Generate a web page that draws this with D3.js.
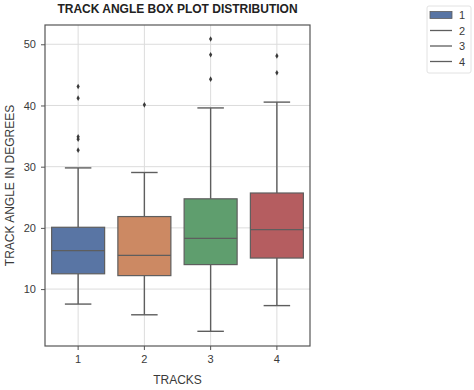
<!DOCTYPE html>
<html>
<head>
<meta charset="utf-8">
<script src="https://cdn.jsdelivr.net/npm/d3@7"></script>
<style>
  body { margin: 0; background: #fff; }
  text { font-family: "Liberation Sans", Arial, sans-serif; }
</style>
</head>
<body>
<div id="chart"></div>
<script>
// box stats
var tracks = ["1", "2", "3", "4"];
var whiskerLow = [7.55, 5.8, 3.1, 7.3];
var q1 = [12.5, 12.2, 14.0, 15.07];
var medians = [16.3, 15.5, 18.3, 19.7];
var q3 = [20.1, 21.85, 24.75, 25.7];
var whiskerHigh = [29.8, 29.05, 39.6, 40.55];
var outliers = [
  [43.1, 41.2, 34.9, 34.5, 32.7],
  [40.1],
  [50.85, 48.3, 44.3],
  [48.1, 45.35]
];
var colors = ["#5975a4", "#cc8963", "#5f9e6e", "#b55d60"];
var yTicks = [10, 20, 30, 40, 50];

var width = 474, height = 390;
var margin = {top: 25, right: 164, bottom: 44, left: 45};

var svg = d3.select("#chart").append("svg")
  .attr("width", width)
  .attr("height", height);

var x = d3.scaleBand().domain(tracks)
  .range([margin.left, width - margin.right]);
var y = d3.scaleLinear().domain([0.7, 53.15])
  .range([height - margin.bottom, margin.top]);

// grid
svg.append("g").selectAll("line").data(yTicks).enter().append("line")
  .attr("x1", margin.left).attr("x2", width - margin.right)
  .attr("y1", function(d) { return y(d); }).attr("y2", function(d) { return y(d); })
  .attr("stroke", "#dcdcdc").attr("stroke-width", 1);
svg.append("g").selectAll("line").data(tracks).enter().append("line")
  .attr("x1", function(d) { return x(d) + x.bandwidth() / 2; })
  .attr("x2", function(d) { return x(d) + x.bandwidth() / 2; })
  .attr("y1", margin.top).attr("y2", height - margin.bottom)
  .attr("stroke", "#dcdcdc").attr("stroke-width", 1);

var lineCol = "#5e5e5e";
var boxW = x.bandwidth() * 0.8;

var rows = tracks.map(function(t, i) {
  return {t: t, i: i, lo: whiskerLow[i], q1: q1[i], med: medians[i], q3: q3[i], hi: whiskerHigh[i]};
});

var g = svg.append("g").selectAll("g").data(rows).enter().append("g")
  .attr("transform", function(d) { return "translate(" + (x(d.t) + x.bandwidth() / 2) + ",0)"; });

// whiskers
g.append("line").attr("x1", 0).attr("x2", 0)
  .attr("y1", function(d) { return y(d.q3); }).attr("y2", function(d) { return y(d.hi); })
  .attr("stroke", lineCol).attr("stroke-width", 1.4);
g.append("line").attr("x1", 0).attr("x2", 0)
  .attr("y1", function(d) { return y(d.q1); }).attr("y2", function(d) { return y(d.lo); })
  .attr("stroke", lineCol).attr("stroke-width", 1.4);
g.append("line").attr("x1", -boxW / 4).attr("x2", boxW / 4)
  .attr("y1", function(d) { return y(d.hi); }).attr("y2", function(d) { return y(d.hi); })
  .attr("stroke", lineCol).attr("stroke-width", 1.4);
g.append("line").attr("x1", -boxW / 4).attr("x2", boxW / 4)
  .attr("y1", function(d) { return y(d.lo); }).attr("y2", function(d) { return y(d.lo); })
  .attr("stroke", lineCol).attr("stroke-width", 1.4);

// boxes
g.append("rect")
  .attr("x", -boxW / 2).attr("width", boxW)
  .attr("y", function(d) { return y(d.q3); })
  .attr("height", function(d) { return y(d.q1) - y(d.q3); })
  .attr("fill", function(d) { return colors[d.i]; })
  .attr("stroke", lineCol).attr("stroke-width", 1.2);
g.append("line").attr("x1", -boxW / 2).attr("x2", boxW / 2)
  .attr("y1", function(d) { return y(d.med); }).attr("y2", function(d) { return y(d.med); })
  .attr("stroke", lineCol).attr("stroke-width", 1.3);

// outliers
g.selectAll("path.fl").data(function(d) { return outliers[d.i]; }).enter().append("path")
  .attr("class", "fl")
  .attr("d", d3.symbol().type(d3.symbolDiamond).size(9))
  .attr("transform", function(v) { return "translate(0," + y(v) + ")"; })
  .attr("fill", "#3a3a3a");

// frame
svg.append("rect")
  .attr("x", margin.left).attr("y", margin.top)
  .attr("width", width - margin.left - margin.right)
  .attr("height", height - margin.top - margin.bottom)
  .attr("fill", "none").attr("stroke", "#555").attr("stroke-width", 1.2);

// axes
var xAxis = svg.append("g")
  .attr("transform", "translate(0," + (height - margin.bottom) + ")")
  .call(d3.axisBottom(x).tickSize(4).tickPadding(5));
var yAxis = svg.append("g")
  .attr("transform", "translate(" + margin.left + ",0)")
  .call(d3.axisLeft(y).tickValues(yTicks).tickSize(4).tickPadding(5));
[xAxis, yAxis].forEach(function(a) {
  a.select(".domain").remove();
  a.selectAll(".tick line").attr("stroke", "#555");
  a.selectAll(".tick text").attr("fill", "#3a3a3a").style("font-size", "11px")
    .style("font-family", "'Liberation Sans', Arial, sans-serif");
});

// titles
svg.append("text")
  .attr("x", (margin.left + width - margin.right) / 2).attr("y", 13)
  .attr("text-anchor", "middle")
  .style("font-size", "12px").style("font-weight", "bold").attr("fill", "#222")
  .text("TRACK ANGLE BOX PLOT DISTRIBUTION");
svg.append("text")
  .attr("x", (margin.left + width - margin.right) / 2).attr("y", 384)
  .attr("text-anchor", "middle")
  .style("font-size", "12px").attr("fill", "#3a3a3a")
  .text("TRACKS");
svg.append("text")
  .attr("transform", "translate(14," + ((margin.top + height - margin.bottom) / 2) + ") rotate(-90)")
  .attr("text-anchor", "middle")
  .style("font-size", "12px").attr("fill", "#3a3a3a")
  .text("TRACK ANGLE IN DEGREES");

// legend
var leg = svg.append("g");
leg.append("rect")
  .attr("x", 427).attr("y", 6).attr("width", 44).attr("height", 67).attr("rx", 2)
  .attr("fill", "#fff").attr("stroke", "#e2e2e2");
tracks.forEach(function(t, i) {
  var cy = 15 + i * 15.5;
  if (i === 0) {
    leg.append("rect").attr("x", 430).attr("y", cy - 3.5).attr("width", 22).attr("height", 7)
      .attr("fill", colors[0]).attr("stroke", lineCol).attr("stroke-width", 0.8);
  } else {
    leg.append("line").attr("x1", 430).attr("x2", 452).attr("y1", cy).attr("y2", cy)
      .attr("stroke", lineCol).attr("stroke-width", 1.3);
  }
  leg.append("text").attr("x", 459).attr("y", cy + 4)
    .style("font-size", "11px").attr("fill", "#3a3a3a").text(t);
});
</script>
</body>
</html>
